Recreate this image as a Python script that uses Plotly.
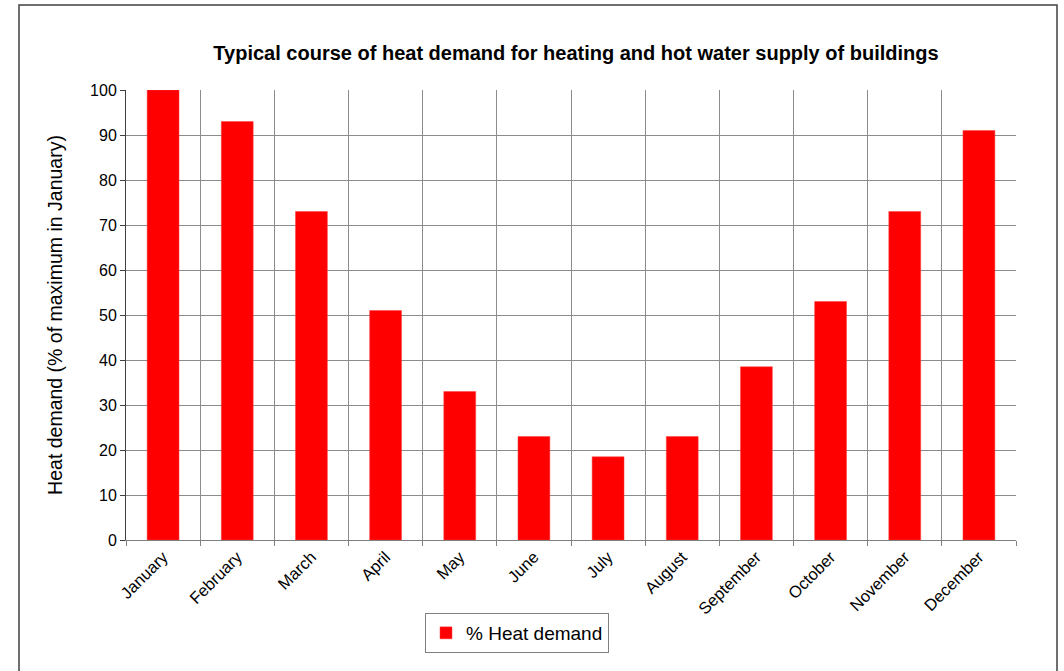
import plotly.graph_objects as go

months = ["January", "February", "March", "April", "May", "June", "July",
          "August", "September", "October", "November", "December"]
heat_demand = [100, 93, 73, 51, 33, 23, 18.5, 23, 38.5, 53, 73, 91]
y_ticks = [0, 10, 20, 30, 40, 50, 60, 70, 80, 90, 100]

FONT = "Liberation Sans, Arial, sans-serif"

W, H = 1064, 671
L, T = 126, 90
pw, ph = 890, 450
R = W - L - pw
B = H - T - ph

def px(x):
    return (x - L) / pw

def py(y):
    return (T + ph - y) / ph

fig = go.Figure()
fig.add_trace(go.Bar(
    x=months, y=heat_demand, name="% Heat demand",
    marker=dict(color="#FF0000", line=dict(color="#FF4040", width=0.5)),
    width=0.43, showlegend=True,
))

fig.update_layout(
    width=W, height=H,
    margin=dict(l=L, r=R, t=T, b=B),
    paper_bgcolor="white", plot_bgcolor="white",
    font=dict(family=FONT, color="#000000"),
    title=dict(text="<b>Typical course of heat demand for heating and hot water supply of buildings</b>",
               xref="paper", x=px(576), xanchor="center",
               yref="container", y=1 - 53 / H, yanchor="middle",
               font=dict(size=20, family=FONT, color="#000000")),
    showlegend=True,
    legend=dict(x=px(517), xanchor="center", y=py(613), yanchor="top",
                orientation="h", bordercolor="#808080", borderwidth=1,
                font=dict(size=19, family=FONT), bgcolor="white",
                itemwidth=30, tracegroupgap=0),
    xaxis=dict(
        type="category", tickson="boundaries", showgrid=True,
        gridcolor="#8c8c8c", gridwidth=1,
        showline=True, linecolor="#808080", linewidth=1,
        ticks="outside", ticklen=5, tickcolor="#808080",
        tickangle=-45, tickfont=dict(size=16.5, family=FONT),
        range=[-0.5, 11.5],
    ),
    yaxis=dict(
        range=[0, 100], tickvals=y_ticks, showgrid=True,
        gridcolor="#8c8c8c", gridwidth=1,
        showline=True, linecolor="#404040", linewidth=1,
        ticks="outside", ticklen=5, tickcolor="#404040",
        tickfont=dict(size=16, family=FONT),
        title=dict(text="Heat demand (% of maximum in January)",
                   font=dict(size=19.5, family=FONT), standoff=22),
        zeroline=False,
    ),
    shapes=[dict(type="rect", xref="paper", yref="paper",
                 x0=px(19), x1=px(1057), y0=py(700), y1=py(5),
                 line=dict(color="#404040", width=1.5), layer="below")],
)

fig.write_html(
    "out.html",
    config={"displayModeBar": False},
    post_script="document.body.style.margin='0';document.body.style.overflow='hidden';",
)
